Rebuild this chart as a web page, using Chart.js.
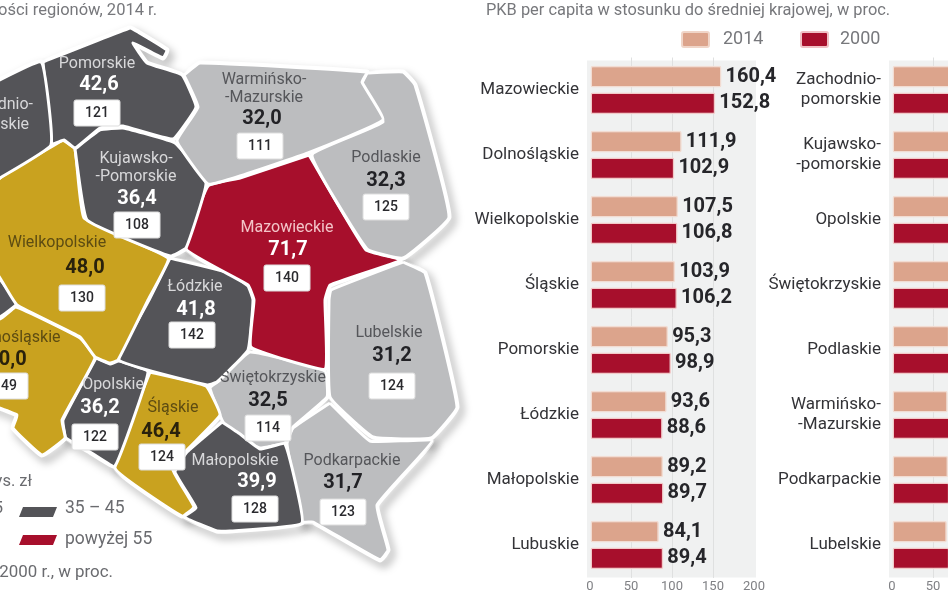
<!DOCTYPE html>
<html lang="pl">
<head>
<meta charset="utf-8">
<title>PKB per capita</title>
<script src="https://cdn.jsdelivr.net/npm/chart.js@4/dist/chart.umd.min.js"></script>
<style>
html, body { margin: 0; padding: 0; background: #fff; overflow: hidden; width: 948px; height: 593px; }
canvas { position: absolute; }
</style>
</head>
<body>
<canvas id="mapChart" width="948" height="593" style="left:0;top:0"></canvas>
<canvas id="barsLeft" width="340" height="553" style="left:460px;top:40px"></canvas>
<canvas id="barsRight" width="340" height="553" style="left:762px;top:40px"></canvas>
<script>
// wykresy slupkowe: kategorie i wartosci
const leftRegions = ['Mazowieckie', 'Dolnośląskie', 'Wielkopolskie', 'Śląskie', 'Pomorskie', 'Łódzkie', 'Małopolskie', 'Lubuskie'];
const left2014 = [160.4, 111.9, 107.5, 103.9, 95.3, 93.6, 89.2, 84.1];
const left2000 = [152.8, 102.9, 106.8, 106.2, 98.9, 88.6, 89.7, 89.4];

const rightRegions = [['Zachodnio-', 'pomorskie'], ['Kujawsko-', '-pomorskie'], 'Opolskie', 'Świętokrzyskie', 'Podlaskie', ['Warmińsko-', '-Mazurskie'], 'Podkarpackie', 'Lubelskie'];
// uciete na krawedzi obrazka - wartosci szacowane
const right2014 = [82, 79, 78, 72, 70, 68, 68.5, 67];
const right2000 = [91, 84, 80, 78, 74, 74, 70, 70];

// mapa: dochody wojewodztw, tys. zl i 2014 vs 2000
const mapNames = ['Pomorskie', 'Warmińsko-\n-Mazurskie', 'Podlaskie', 'Kujawsko-\n-Pomorskie', 'Mazowieckie', 'Wielkopolskie', 'Łódzkie', 'Dolnośląskie', 'Opolskie', 'Śląskie', 'Małopolskie', 'Świętokrzyskie', 'Lubelskie', 'Podkarpackie'];
const mapValues = ['42,6', '32,0', '32,3', '36,4', '71,7', '48,0', '41,8', '50,0', '36,2', '46,4', '39,9', '32,5', '31,2', '31,7'];
const mapIndex = ['121', '111', '125', '108', '140', '130', '142', '149', '122', '124', '128', '114', '124', '123'];

const DARK = '#545458', GOLD = '#c9a21f', RED = '#a70f2c', GREY = '#bcbdbf';
const PEACH = '#dca48c', WINE = '#a70f2c';

// obrysy wojewodztw w ukladzie osi mapy
const regionShapes = [
    { c: DARK, p: [[-30,95],[41,62],[51,145],[0,178],[-30,195]] },
    { c: DARK, p: [[43,62],[130,28],[138,32],[167,50],[163,58],[133,43],[147,63],[182,75],[196,107],[173,139],[123,126],[100,128],[75,148],[64,140],[52,144]] },
    { c: GREY, p: [[184,75],[200,63],[367,72],[362,82],[383,120],[308,153],[240,176],[208,184],[177,141],[198,107]] },
    { c: GREY, p: [[367,73],[403,72],[415,85],[449,217],[403,258],[367,249],[312,155],[383,122],[362,84]] },
    { c: DARK, p: [[75,149],[100,130],[123,128],[175,143],[206,183],[186,248],[170,256],[87,220]] },
    { c: RED, p: [[309,155],[366,250],[401,260],[330,285],[325,300],[325,369],[251,347],[254,300],[248,285],[186,249],[208,186],[240,178]] },
    { c: GOLD, p: [[63,140],[75,149],[84,218],[168,258],[148,300],[118,360],[110,363],[95,357],[80,337],[17,305],[0,278],[-30,230],[0,178]] },
    { c: DARK, p: [[170,258],[230,273],[248,286],[253,300],[248,350],[217,382],[207,385],[119,360],[149,300]] },
    { c: DARK, p: [[0,279],[15,300],[16,305],[0,317],[-30,318]] },
    { c: GOLD, p: [[-30,305],[0,319],[16,307],[80,338],[95,358],[62,420],[65,438],[42,455],[13,428],[17,415],[-30,395]] },
    { c: DARK, p: [[96,358],[110,364],[119,361],[148,372],[115,466],[90,452],[66,438],[63,420]] },
    { c: GOLD, p: [[150,372],[206,386],[220,415],[187,450],[173,470],[194,507],[182,516],[115,468]] },
    { c: DARK, p: [[222,422],[240,434],[260,449],[285,444],[302,523],[230,531],[217,531],[184,517],[196,508],[175,472],[187,452]] },
    { c: GREY, p: [[220,380],[250,352],[325,371],[327,397],[293,427],[285,443],[260,448],[247,443],[230,433],[222,420],[210,388]] },
    { c: GREY, p: [[403,262],[425,273],[457,407],[431,438],[373,437],[330,397],[329,300],[331,290]] },
    { c: GREY, p: [[330,403],[370,441],[432,441],[377,505],[388,550],[380,560],[313,522],[302,522],[287,444],[293,428]] }
];

// pozycje opisow na mapie, w tej samej kolejnosci co mapNames
const labelSpots = [
    { l: [97, 64], v: [99, 85], b: [97, 113] },
    { l: [264, 80], v: [262, 119], b: [260, 146] },
    { l: [386, 158], v: [386, 181], b: [386, 207] },
    { l: [136, 159], v: [137, 199], b: [137, 225] },
    { l: [287, 228], v: [288, 250], b: [287, 278] },
    { l: [57, 243], v: [85, 268], b: [82, 298] },
    { l: [195, 287], v: [196, 310], b: [192, 335] },
    { l: [15, 338], v: [7, 360], b: [5, 386] },
    { l: [113, 385], v: [100, 408], b: [95, 437] },
    { l: [173, 408], v: [161, 432], b: [162, 457] },
    { l: [235, 461], v: [257, 482], b: [255, 509] },
    { l: [273, 378], v: [268, 401], b: [268, 428] },
    { l: [389, 333], v: [392, 356], b: [392, 386] },
    { l: [352, 461], v: [343, 483], b: [343, 512] }
];
const FONT = 'Roboto, sans-serif';

function closed(points) {
    const pts = points.map(p => ({ x: p[0], y: p[1] }));
    pts.push(pts[0]);
    return pts;
}

const shapeSets = regionShapes.map(r => ({
    data: closed(r.p),
    showLine: true,
    fill: 'shape',
    backgroundColor: r.c,
    borderColor: '#fff',
    borderWidth: 3,
    borderJoinStyle: 'round',
    tension: 0.1,
    pointRadius: 0,
    order: 1
}));
// biala warstwa pod spodem, tylko dla cienia
const shadowSets = regionShapes.map(r => ({
    data: closed(r.p),
    showLine: true,
    fill: 'shape',
    backgroundColor: '#fff',
    borderColor: '#fff',
    borderWidth: 5,
    tension: 0.1,
    pointRadius: 0,
    order: 2,
    isShadow: true
}));

const shadowPlugin = {
    id: 'shadowPlugin',
    beforeDatasetDraw(chart, args) {
        chart.ctx.save();
        if (chart.data.datasets[args.index].isShadow) {
            chart.ctx.shadowColor = 'rgba(0,0,0,0.35)';
            chart.ctx.shadowBlur = 9;
            chart.ctx.shadowOffsetX = 4;
            chart.ctx.shadowOffsetY = 5;
        }
    },
    afterDatasetDraw(chart) {
        chart.ctx.restore();
    }
};

function put(ctx, text, x, y, font, color, align) {
    ctx.font = font;
    ctx.fillStyle = color;
    ctx.textAlign = align || 'center';
    ctx.textBaseline = 'middle';
    ctx.fillText(text, x, y);
}

function swatch(ctx, x, y, w, h, color, border) {
    ctx.fillStyle = color;
    ctx.strokeStyle = border;
    ctx.lineWidth = 2;
    ctx.beginPath();
    ctx.roundRect(x, y, w, h, 2);
    ctx.fill();
    ctx.stroke();
}

const textPlugin = {
    id: 'textPlugin',
    afterDatasetsDraw(chart) {
        const ctx = chart.ctx;
        const sx = chart.scales.x, sy = chart.scales.y;
        const px = v => sx.getPixelForValue(v), py = v => sy.getPixelForValue(v);
        ctx.save();
        mapNames.forEach((name, i) => {
            const s = labelSpots[i];
            let nameColor = '#d8d8da', valueColor = '#fff';
            if (['Wielkopolskie', 'Dolnośląskie', 'Śląskie'].includes(name)) { nameColor = '#5d4c12'; valueColor = '#2a220c'; }
            if (['Warmińsko-\n-Mazurskie', 'Podlaskie', 'Świętokrzyskie', 'Lubelskie', 'Podkarpackie'].includes(name)) { nameColor = '#55565a'; valueColor = '#222226'; }
            if (name === 'Mazowieckie') { nameColor = '#f3c4c8'; }
            name.split('\n').forEach((line, k) => {
                put(ctx, line, px(s.l[0]), py(s.l[1] + k * 18), '16px ' + FONT, nameColor);
            });
            put(ctx, mapValues[i], px(s.v[0]), py(s.v[1]), 'bold 20px ' + FONT, valueColor);
            ctx.fillStyle = '#fff';
            ctx.strokeStyle = '#ddd';
            ctx.lineWidth = 1;
            ctx.beginPath();
            ctx.roundRect(px(s.b[0]) - 23, py(s.b[1]) - 13, 46, 26, 2);
            ctx.fill();
            ctx.stroke();
            put(ctx, mapIndex[i], px(s.b[0]), py(s.b[1]), '500 14px ' + FONT, '#2a2a2e');
        });
        // napisy czesciowo uciete na krawedzi jak w oryginale
        put(ctx, 'dnio-', 33, 105, '16px ' + FONT, '#d8d8da', 'right');
        put(ctx, 'skie', 29, 125, '16px ' + FONT, '#d8d8da', 'right');
        put(ctx, 'ości regionów, 2014 r.', 157, 11, '16.5px ' + FONT, '#77787c', 'right');
        put(ctx, 'ys. zł', 32, 482, '16.5px ' + FONT, '#6a6b6f', 'right');
        put(ctx, '5', 3, 509, '17px ' + FONT, '#6a6b6f', 'right');
        put(ctx, '35 – 45', 65, 509, '17.5px ' + FONT, '#6a6b6f', 'left');
        put(ctx, 'powyżej 55', 65, 540, '17.5px ' + FONT, '#6a6b6f', 'left');
        put(ctx, '2000 r., w proc.', 113, 573, '16.9px ' + FONT, '#6a6b6f', 'right');
        // kolorowe pola legendy mapy
        [[507, DARK], [535, WINE]].forEach(([y, col]) => {
            ctx.fillStyle = col;
            ctx.beginPath();
            ctx.moveTo(23, y); ctx.lineTo(57, y); ctx.lineTo(53, y + 10); ctx.lineTo(19, y + 10);
            ctx.closePath();
            ctx.fill();
        });
        // naglowek i legenda wykresu
        put(ctx, 'PKB per capita w stosunku do średniej krajowej, w proc.', 486, 11, '16.4px ' + FONT, '#77787c', 'left');
        swatch(ctx, 682, 32, 27, 15, PEACH, '#f0d5c8');
        put(ctx, '2014', 723, 39, '18px ' + FONT, '#77787c', 'left');
        swatch(ctx, 801, 32, 27, 15, WINE, '#f0c0c4');
        put(ctx, '2000', 840, 39, '18px ' + FONT, '#77787c', 'left');
        ctx.restore();
    }
};

new Chart(document.getElementById('mapChart'), {
    type: 'scatter',
    data: { datasets: [...shapeSets, ...shadowSets] },
    options: {
        responsive: false,
        animation: false,
        layout: { padding: 0 },
        plugins: { legend: { display: false }, tooltip: { enabled: false } },
        scales: {
            x: { display: false, min: 0, max: 948 },
            y: { display: false, min: 0, max: 593, reverse: true }
        }
    },
    plugins: [shadowPlugin, textPlugin]
});

// tlo pod slupkami i wartosci na koncach
const panelPlugin = {
    id: 'panelPlugin',
    beforeDraw(chart) {
        const a = chart.chartArea;
        chart.ctx.fillStyle = '#f0f1f1';
        chart.ctx.fillRect(a.left - 3, a.top + 3, a.right - a.left + 5, a.bottom - a.top - 3);
    },
    afterDatasetsDraw(chart) {
        const ctx = chart.ctx;
        ctx.save();
        chart.data.datasets.forEach((set, d) => {
            chart.getDatasetMeta(d).data.forEach((bar, i) => {
                const text = set.data[i].toFixed(1).replace('.', ',');
                put(ctx, text, bar.x + 4, bar.y, 'bold 20px ' + FONT, '#26262a', 'left');
            });
        });
        ctx.restore();
    }
};

function barChart(id, regions, v2014, v2000) {
    return new Chart(document.getElementById(id), {
        type: 'bar',
        data: {
            labels: regions,
            datasets: [
                { label: '2014', data: v2014, backgroundColor: PEACH, borderColor: '#f2dcd2', borderWidth: 1.5, borderRadius: 2, borderSkipped: false },
                { label: '2000', data: v2000, backgroundColor: WINE, borderColor: '#f2c9c8', borderWidth: 1.5, borderRadius: 2, borderSkipped: false }
            ]
        },
        options: {
            indexAxis: 'y',
            responsive: false,
            animation: false,
            categoryPercentage: 0.82,
            barPercentage: 0.82,
            layout: { padding: { top: 17.5, right: 46, left: 0, bottom: 0 } },
            plugins: { legend: { display: false }, tooltip: { enabled: false } },
            scales: {
                x: {
                    min: 0, max: 200,
                    afterFit: s => { s.height = 15.5; },
                    border: { display: false },
                    grid: { color: ctx => (ctx.tick.value > 0 && ctx.tick.value < 200 ? '#dfe0e0' : 'transparent'), drawTicks: false },
                    ticks: { stepSize: 50, padding: 1, maxRotation: 0, color: '#808185', font: { family: FONT, size: 13 } }
                },
                y: {
                    // bez dodatkowego marginesu od etykiet dwuwierszowych, oba wykresy maja te sama wysokosc
                    afterFit: s => { s.width = 130; s.paddingTop = 0; s.paddingBottom = 0; },
                    border: { display: false },
                    grid: { display: false },
                    ticks: { padding: 3, autoSkip: false, color: '#333337', font: { family: FONT, size: 17 } }
                }
            }
        },
        plugins: [panelPlugin]
    });
}

barChart('barsLeft', leftRegions, left2014, left2000);
barChart('barsRight', rightRegions, right2014, right2000);
</script>
</body>
</html>
